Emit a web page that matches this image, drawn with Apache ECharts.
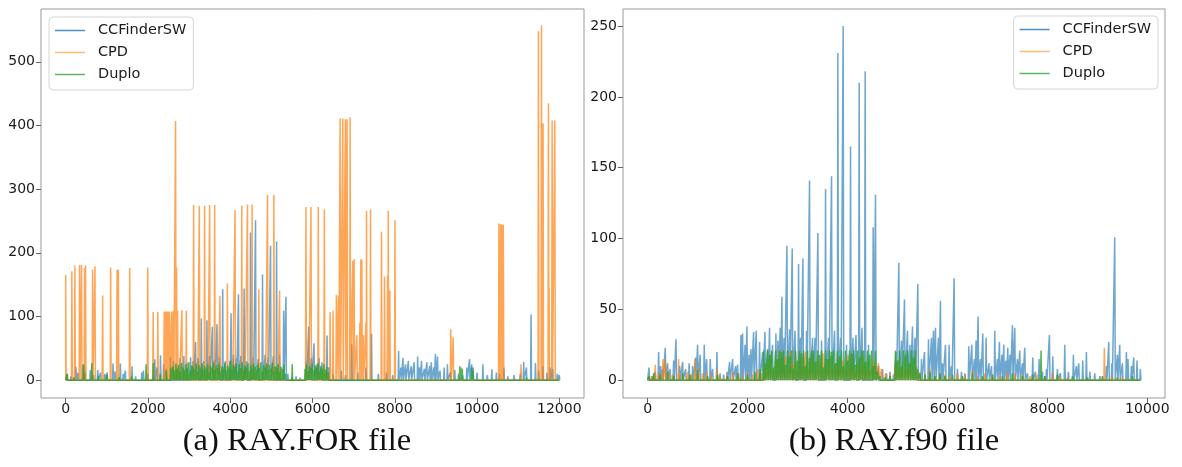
<!DOCTYPE html>
<html>
<head>
<meta charset="utf-8">
<script src="https://cdn.jsdelivr.net/npm/echarts@6/dist/echarts.min.js"></script>
<style>
  html, body { margin: 0; background: #fff; }
  #chart { width: 1182px; height: 467px; }
</style>
</head>
<body>
<div id="chart"></div>
<script>
const seriesNames = ['CCFinderSW', 'CPD', 'Duplo'];
const captions = ['(a) RAY.FOR file', '(b) RAY.f90 file'];

const xTicksA = [0, 2000, 4000, 6000, 8000, 10000, 12000];
const yTicksA = [0, 100, 200, 300, 400, 500];
const xTicksB = [0, 2000, 4000, 6000, 8000, 10000];
const yTicksB = [0, 50, 100, 150, 200, 250];

// last line index of each file
const lastA = 12000;
const lastB = 9860;

// spikes: [line index, clone count]
// (a) RAY.FOR
const ccfA = [
  [40, 10], [130, 6], [249, 21], [300, 12], [410, 24], [470, 14], [598, 16], [680, 8], [780, 16], [850, 12],
  [950, 10], [1010, 12], [1150, 26], [1200, 14], [1329, 26], [1400, 10], [1450, 15], [1614, 22], [1700, 6],
  [1850, 12], [1890, 15], [2000, 10], [2167, 33], [2220, 20], [2305, 39], [2380, 25], [2440, 18], [2549, 36],
  [2620, 30], [2700, 22], [2780, 35], [2873, 38], [2950, 28], [3037, 36], [3100, 30], [3158, 60], [3220, 35],
  [3298, 97], [3360, 30], [3434, 94], [3500, 38], [3566, 84], [3620, 32], [3678, 88], [3740, 36], [3817, 143],
  [3880, 30], [3988, 30], [4020, 105], [4080, 40], [4150, 35], [4200, 135], [4260, 38], [4337, 144], [4400, 30],
  [4493, 232], [4560, 36], [4615, 251], [4680, 33], [4785, 166], [4850, 40], [4920, 35], [4980, 211], [5050, 38],
  [5127, 218], [5200, 40], [5298, 109], [5354, 131], [5400, 10], [5500, 5], [5600, 6], [5700, 4],
  [5850, 30], [5907, 84], [5970, 35], [6037, 58], [6100, 25], [6160, 35], [6230, 28], [6354, 70], [6400, 20],
  [6500, 10], [6700, 15], [6800, 8], [6956, 56], [7100, 12], [7300, 20], [7435, 73], [7600, 10], [7800, 12],
  [7950, 8], [8093, 46], [8150, 20], [8200, 35], [8260, 25], [8330, 30], [8400, 22], [8470, 28], [8556, 37],
  [8600, 20], [8650, 30], [8720, 18], [8780, 28], [8850, 22], [8890, 28], [8950, 20], [8988, 41], [9040, 37],
  [9100, 15], [9200, 20], [9280, 25], [9350, 12], [9459, 16], [9550, 10], [9650, 8], [9750, 20], [9817, 33],
  [9870, 25], [9905, 20], [10000, 12], [10142, 25], [10250, 8], [10360, 17], [10470, 12], [10550, 10],
  [10654, 20], [10750, 6], [10900, 8], [11050, 10], [11134, 29], [11200, 20], [11313, 103], [11420, 27],
  [11500, 15], [11600, 22], [11700, 12], [11780, 20], [11840, 18], [11950, 10], [12000, 8]
];
const cpdA = [
  [0, 165], [150, 171], [224, 180], [337, 181], [386, 181], [459, 176], [483, 180], [654, 174], [712, 179],
  [898, 133], [1093, 177], [1249, 173], [1280, 174], [1556, 176], [1995, 177], [2127, 107], [2240, 107],
  [2395, 108], [2428, 108], [2460, 108], [2493, 108], [2525, 108], [2580, 108], [2620, 109], [2671, 407],
  [2695, 177], [2720, 109], [2760, 12], [2825, 110], [2932, 109], [2990, 10], [3110, 275], [3200, 8],
  [3249, 274], [3378, 274], [3450, 12], [3500, 275], [3622, 275], [3700, 9], [3751, 132], [3931, 152],
  [4050, 10], [4117, 267], [4280, 274], [4350, 8], [4420, 276], [4532, 276], [4600, 12], [4695, 143],
  [4850, 9], [4907, 291], [5061, 291], [5150, 10], [5200, 141], [5841, 272], [5900, 8], [5963, 272],
  [6141, 272], [6200, 10], [6288, 268], [6350, 14], [6427, 107], [6500, 109], [6580, 134], [6630, 133],
  [6671, 411], [6736, 411], [6800, 410], [6841, 410], [6915, 413], [6980, 187], [7012, 190], [7078, 71],
  [7150, 90], [7175, 190], [7200, 189], [7232, 71], [7297, 90], [7313, 266], [7410, 268], [7678, 233],
  [7751, 163], [7824, 164], [7841, 266], [7880, 141], [8005, 251], [9361, 80], [9420, 67], [10532, 246],
  [10573, 245], [10605, 244], [10639, 244], [11068, 25], [11493, 548], [11566, 557], [11605, 403],
  [11736, 435], [11752, 145], [11825, 408], [11890, 408]
];
const duploA = [
  [30, 10], [200, 5], [439, 25], [635, 27], [800, 6], [1000, 8], [1300, 5], [1600, 6], [1955, 25], [2130, 27],
  [2300, 10], [2450, 15], [2560, 20],
  [2610, 22], [2645, 15], [2680, 26], [2715, 18], [2750, 24], [2785, 12], [2820, 27], [2855, 20], [2890, 16],
  [2925, 25], [2960, 19], [2995, 28], [3030, 14], [3065, 23], [3100, 21], [3135, 17], [3170, 26], [3205, 13],
  [3240, 24], [3275, 20], [3310, 27], [3345, 15], [3380, 22], [3415, 18], [3450, 25], [3485, 12], [3520, 23],
  [3555, 20], [3590, 28], [3625, 16], [3660, 24], [3695, 19], [3730, 26], [3765, 14], [3800, 22], [3835, 18],
  [3870, 27], [3905, 15], [3940, 23], [3975, 20], [4010, 31], [4045, 17], [4080, 24], [4115, 21], [4150, 26],
  [4185, 13], [4220, 25], [4255, 19], [4290, 28], [4325, 16], [4360, 23], [4395, 20], [4430, 27], [4465, 14],
  [4500, 24], [4535, 18], [4570, 26], [4605, 21], [4640, 15], [4675, 25], [4710, 19], [4745, 28], [4780, 13],
  [4815, 23], [4850, 20], [4885, 26], [4920, 16], [4955, 24], [4990, 18], [5025, 27], [5060, 14], [5095, 22],
  [5130, 20], [5165, 25], [5200, 12], [5235, 21], [5270, 18], [5305, 24], [5340, 10], [5507, 25], [5600, 3],
  [5820, 18], [5855, 25], [5890, 14], [5925, 22], [5960, 19], [5995, 26], [6030, 15], [6065, 23], [6100, 20],
  [6135, 27], [6170, 13], [6205, 22], [6240, 18], [6275, 25], [6310, 16], [6345, 21], [6380, 12],
  [6600, 3], [7000, 2], [8000, 3], [9580, 22], [9610, 20], [9640, 18], [9870, 20], [9900, 15], [10500, 3],
  [11200, 4]
];

// (b) RAY.f90
const ccfB = [
  [27, 9], [90, 3], [150, 6], [220, 20], [260, 10], [300, 8], [353, 23], [400, 12], [450, 8], [520, 14],
  [567, 29], [640, 10], [700, 13], [760, 8], [830, 12], [900, 10], [960, 16], [1000, 25], [1050, 18],
  [1133, 25], [1180, 15], [1253, 15], [1300, 8], [1387, 20], [1450, 5], [1520, 4], [1590, 6], [1640, 13],
  [1700, 15], [1760, 10], [1800, 11], [1867, 32], [1900, 33], [1950, 25], [1987, 38], [2030, 18], [2067, 22],
  [2120, 34], [2173, 35], [2240, 27], [2300, 20], [2347, 34], [2400, 22], [2440, 37], [2500, 25], [2567, 33],
  [2610, 28], [2653, 37], [2687, 59], [2730, 30], [2787, 95], [2840, 36], [2893, 93], [2950, 35], [3020, 82],
  [3060, 30], [3107, 86], [3180, 35], [3240, 141], [3300, 30], [3350, 30], [3407, 104], [3480, 28],
  [3560, 135], [3620, 30], [3680, 144], [3740, 35], [3807, 231], [3860, 30], [3913, 250], [3980, 25],
  [4060, 165], [4110, 30], [4170, 32], [4233, 210], [4290, 37], [4353, 218], [4420, 25], [4513, 108],
  [4560, 131], [4620, 10], [4700, 8], [4780, 5], [4850, 6], [4920, 4], [4970, 20], [5027, 83], [5080, 28],
  [5140, 57], [5200, 35], [5250, 25], [5300, 38], [5350, 30], [5407, 68], [5480, 15], [5540, 20], [5620, 29],
  [5680, 30], [5720, 35], [5760, 37], [5820, 30], [5860, 56], [5900, 12], [5960, 25], [6033, 25], [6080, 10],
  [6133, 72], [6200, 8], [6280, 6], [6350, 5], [6427, 24], [6487, 25], [6540, 15], [6573, 28], [6613, 45],
  [6660, 15], [6707, 33], [6773, 30], [6830, 12], [6880, 10], [6947, 35], [7000, 15], [7040, 27], [7090, 18],
  [7127, 25], [7170, 14], [7207, 23], [7250, 18], [7300, 39], [7347, 37], [7400, 15], [7447, 21], [7500, 12],
  [7547, 23], [7600, 5], [7707, 16], [7760, 6], [7833, 15], [7900, 6], [7980, 8], [8040, 32], [8107, 17],
  [8200, 8], [8260, 5], [8347, 25], [8420, 6], [8520, 18], [8580, 10], [8627, 12], [8707, 14], [8780, 20],
  [8850, 6], [8947, 5], [9050, 3], [9180, 10], [9227, 27], [9290, 12], [9347, 101], [9400, 18], [9447, 25],
  [9500, 12], [9580, 20], [9613, 15], [9680, 10], [9727, 16], [9793, 14], [9860, 8]
];
const cpdB = [
  [80, 3], [153, 11], [220, 5], [307, 15], [357, 14], [420, 6], [500, 4], [620, 15], [700, 5], [800, 6],
  [880, 4], [953, 15], [1020, 8], [1100, 5], [1180, 6], [1270, 4], [1387, 8], [1450, 3], [1600, 4], [1700, 6],
  [1820, 5], [1900, 3], [2000, 6], [2100, 4], [2200, 8], [2280, 5], [2350, 12], [2400, 9], [2460, 18],
  [2520, 7], [2580, 14], [2640, 22], [2700, 10], [2760, 17], [2820, 8], [2860, 21], [2910, 12], [2960, 19],
  [3010, 7], [3060, 16], [3110, 10], [3160, 20], [3210, 8], [3260, 14], [3310, 18], [3360, 6], [3410, 15],
  [3460, 11], [3510, 19], [3560, 9], [3610, 13], [3660, 17], [3710, 7], [3760, 12], [3810, 16], [3860, 10],
  [3910, 14], [3960, 8], [4010, 18], [4060, 11], [4110, 15], [4160, 6], [4210, 13], [4260, 9], [4310, 17],
  [4360, 8], [4410, 12], [4460, 7], [4510, 14], [4560, 10], [4620, 12], [4680, 8], [4760, 5], [4850, 4],
  [4950, 10], [5000, 14], [5050, 8], [5100, 11], [5150, 6], [5200, 9], [5260, 13], [5320, 7], [5380, 10],
  [5450, 6], [5550, 4], [5650, 8], [5750, 3], [5850, 5], [5950, 4], [6050, 3], [6200, 5], [6350, 4],
  [6500, 7], [6600, 3], [6750, 5], [6900, 4], [7050, 3], [7200, 6], [7350, 5], [7500, 4], [7650, 3],
  [7800, 4], [7950, 3], [8100, 5], [8250, 3], [8400, 2], [9140, 23], [9300, 3], [9500, 2]
];
const duploB = [
  [30, 3], [120, 5], [250, 4], [400, 6], [520, 3], [700, 5], [850, 4], [1000, 7], [1200, 3], [1400, 4],
  [1600, 3], [1800, 5], [2000, 4], [2150, 6], [2250, 8],
  [2320, 21], [2360, 12], [2400, 21], [2440, 18], [2480, 21], [2520, 9], [2560, 21], [2600, 15], [2640, 21],
  [2680, 20], [2720, 21], [2760, 11], [2800, 21], [2840, 17], [2880, 21], [2920, 8], [2960, 21], [3000, 14],
  [3040, 21], [3080, 19], [3120, 21], [3160, 10], [3200, 21], [3240, 16], [3280, 21], [3320, 21], [3360, 13],
  [3400, 21], [3440, 18], [3480, 21], [3520, 9], [3560, 21], [3600, 15], [3640, 21], [3680, 20], [3720, 21],
  [3760, 12], [3800, 21], [3840, 17], [3880, 21], [3920, 10], [3960, 21], [4000, 14], [4040, 21], [4080, 19],
  [4120, 21], [4160, 11], [4200, 21], [4240, 16], [4280, 21], [4320, 21], [4360, 13], [4400, 21], [4440, 18],
  [4480, 21], [4520, 10], [4560, 21], [4600, 6], [4650, 3], [4750, 2], [4850, 3],
  [4960, 21], [5000, 14], [5040, 21], [5080, 10], [5120, 21], [5160, 18], [5200, 21], [5240, 12], [5280, 21],
  [5320, 16], [5360, 21], [5400, 8], [5450, 5], [5550, 4], [5650, 6], [5750, 3], [5850, 5], [5950, 3],
  [6100, 4], [6300, 3], [6500, 5], [6700, 3], [6900, 4], [7100, 3], [7300, 5], [7500, 3], [7700, 4],
  [7873, 21], [7950, 3], [8200, 4], [8500, 3], [8800, 2], [9100, 3], [9400, 2], [9700, 3]
];

const colors = ['#1f77b4', '#ff7f0e', '#2ca02c'];
const opacities = [0.65, 0.7, 0.8];
// legend keys are drawn lighter, as in the reference
const legendColors = ['#4b91c6', '#ffb97a', '#5cb65c'];
const HALF = 11; // half width of one spike, in line units

// turn spikes into a line that drops back to zero between them
function toLine(spikes, last) {
  const pts = [[0, 0]];
  spikes.slice().sort((a, b) => a[0] - b[0]).forEach(([x, h]) => {
    pts.push([x - HALF, 0], [x, h], [x + HALF, 0]);
  });
  pts.push([last, 0]);
  return pts;
}

const panels = [
  { data: [ccfA, cpdA, duploA], last: lastA, xTicks: xTicksA, yTicks: yTicksA, xMin: -600, xMax: 12600, yMin: -28, yMax: 583 },
  { data: [ccfB, cpdB, duploB], last: lastB, xTicks: xTicksB, yTicks: yTicksB, xMin: -493, xMax: 10353, yMin: -12.5, yMax: 262 },
];

const tickFont = { fontFamily: 'DejaVu Sans', fontSize: 14, color: '#1a1a1a' };

const makeAxis = (i, ticks, min, max, isX) => ({
  type: 'value',
  gridIndex: i,
  min,
  max,
  axisLine: { show: false, onZero: false },
  splitLine: { show: false },
  axisTick: { show: true, length: 5, inside: false, customValues: ticks, lineStyle: { color: '#666' } },
  axisLabel: { customValues: ticks, margin: isX ? 4 : 6, formatter: (v) => String(v), ...tickFont },
});

const series = [];
panels.forEach((p, i) => {
  p.data.forEach((spikes, k) => {
    series.push({
      name: seriesNames[k],
      type: 'line',
      xAxisIndex: i,
      yAxisIndex: i,
      data: toLine(spikes, p.last),
      symbol: 'none',
      silent: true,
      lineStyle: { color: colors[k], width: 1.5, opacity: opacities[k] },
      itemStyle: { color: colors[k] },
    });
  });
});

const legendBase = {
  orient: 'vertical',
  data: seriesNames.map((name, k) => ({ name, itemStyle: { color: legendColors[k] } })),
  icon: 'rect',
  backgroundColor: '#fff',
  borderColor: '#d6d6d6',
  borderWidth: 1,
  borderRadius: 4,
  padding: [5, 7, 7, 6],
  itemWidth: 30,
  itemHeight: 1.5,
  itemGap: 5,
  selectedMode: false,
  textStyle: { fontFamily: 'DejaVu Sans', fontSize: 14.5, color: '#1a1a1a', padding: [0, 0, 0, 8], lineHeight: 17 },
};

const option = {
  animation: false,
  backgroundColor: '#fff',
  grid: [
    { left: 41, top: 9, width: 543, height: 389, show: true, borderColor: '#999', borderWidth: 1 },
    { left: 623, top: 9, width: 542, height: 389, show: true, borderColor: '#999', borderWidth: 1 },
  ],
  xAxis: panels.map((p, i) => makeAxis(i, p.xTicks, p.xMin, p.xMax, true)),
  yAxis: panels.map((p, i) => makeAxis(i, p.yTicks, p.yMin, p.yMax, false)),
  legend: [
    { ...legendBase, left: 49, top: 17 },
    { ...legendBase, right: 24, top: 16 },
  ],
  graphic: captions.map((text, i) => ({
    type: 'text',
    x: i === 0 ? 297 : 894,
    y: 441,
    style: {
      text,
      fontFamily: 'Liberation Serif',
      fontSize: 32.5,
      fill: '#111',
      textAlign: 'center',
      textVerticalAlign: 'middle',
    },
  })),
  series,
};

const chart = echarts.init(document.getElementById('chart'), null, { renderer: 'canvas' });
chart.setOption(option);
</script>
</body>
</html>
